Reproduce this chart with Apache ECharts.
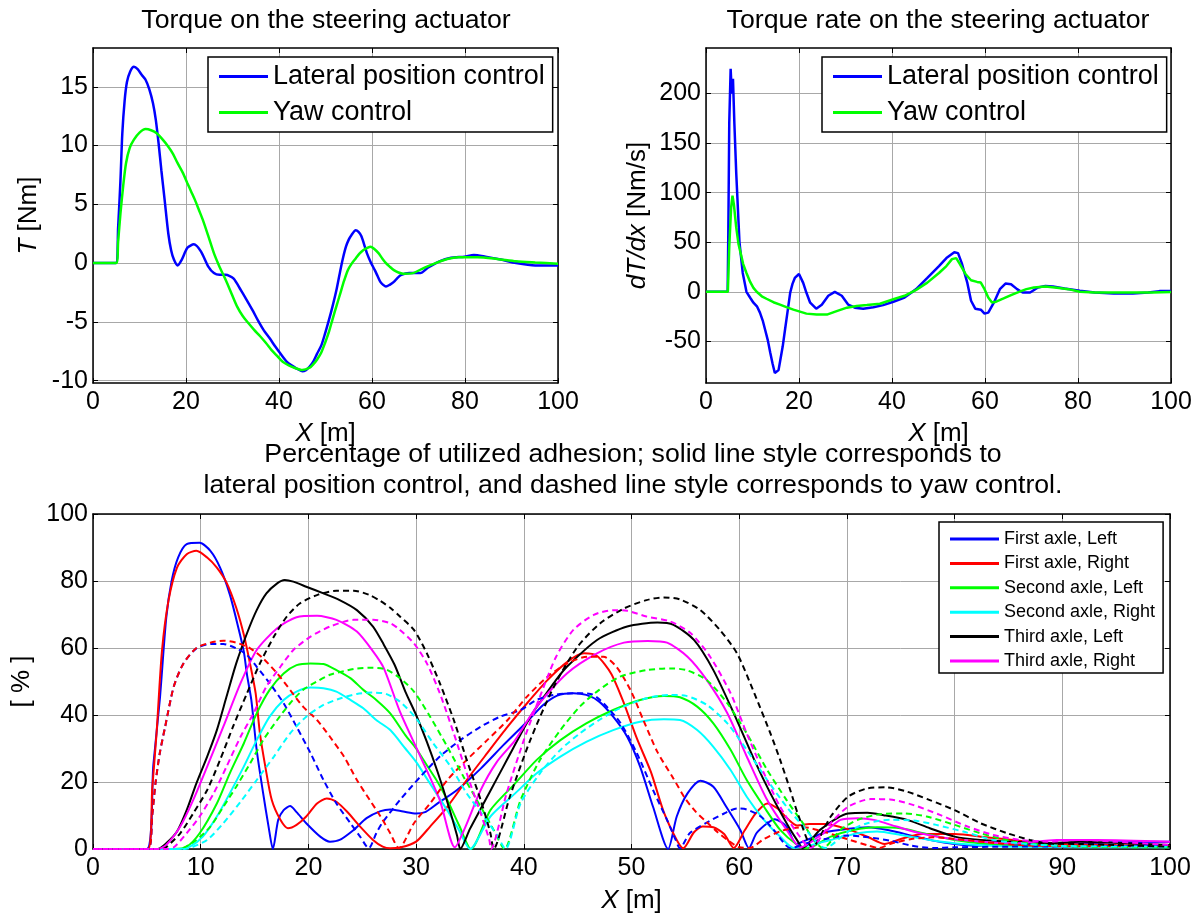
<!DOCTYPE html>
<html>
<head>
<meta charset="utf-8">
<script src="https://cdn.jsdelivr.net/npm/echarts@6/dist/echarts.min.js"></script>
<style>
  html, body { margin: 0; padding: 0; background: #fff; }
  #chart { width: 1197px; height: 915px; }
</style>
</head>
<body>
<div id="chart"></div>
<script>
// ---------- Torque on the steering actuator, T [Nm] vs X [m] ----------
const torqueLateral = [[0,0],[4.9,0],[5.4,3],[5.9,7],[6.3,11],[6.8,13.8],[7.3,15.4],[8,16.3],[8.8,16.7],[9.6,16.5],[10.5,16.0],[11.3,15.6],[12.1,14.8],[12.9,13.6],[13.5,12.2],[14.1,10.2],[14.7,7.9],[15.4,5.4],[16.2,2.5],[16.8,1.1],[17.4,0.3],[18.2,-0.2],[19.1,0.3],[20.3,1.3],[21.7,1.6],[23.2,1.0],[24.8,-0.3],[26,-0.85],[27.2,-1.0],[28.5,-1.0],[30.2,-1.3],[31.8,-2.3],[33,-3.1],[34.3,-4.0],[35.5,-4.9],[36.7,-5.7],[38,-6.4],[39.2,-7.1],[40.5,-7.8],[41.7,-8.4],[42.7,-8.7],[43.7,-8.95],[45,-9.2],[45.8,-9.1],[46.6,-8.8],[47.4,-8.35],[48.2,-7.7],[49.1,-7.0],[49.9,-6.0],[50.7,-4.9],[51.5,-3.7],[52.4,-2.2],[53.2,-0.6],[53.8,0.5],[54.4,1.4],[55,2.0],[55.6,2.4],[56.5,2.8],[57.1,2.65],[57.7,2.3],[58.3,1.6],[58.9,0.85],[59.7,0.1],[60.6,-0.6],[61.2,-1.1],[61.8,-1.6],[62.4,-1.85],[63,-2.0],[63.8,-1.85],[64.7,-1.6],[65.5,-1.25],[66.3,-1.0],[68,-0.85],[70.4,-0.85],[72,-0.4],[74.5,0.15],[77,0.45],[79.9,0.55],[81.9,0.7],[84.4,0.55],[87.7,0.3],[91,0],[95.1,-0.2],[100,-0.2]];
const torqueYaw = [[0,0],[5,0],[5.4,1.8],[5.9,4.2],[6.5,6.6],[7.1,8.5],[7.9,9.8],[8.8,10.5],[10,11.1],[11.3,11.4],[12.5,11.3],[13.7,11.05],[15,10.5],[16.2,9.9],[17.2,9.3],[18.2,8.5],[19.3,7.7],[20.3,6.8],[21.1,6.1],[21.9,5.4],[22.8,4.5],[23.6,3.7],[24.8,2.3],[26,0.85],[27.2,-0.3],[28.5,-1.4],[29.8,-2.6],[31,-3.7],[32.2,-4.5],[33.4,-5.1],[34.7,-5.7],[35.9,-6.2],[37.2,-6.8],[38.4,-7.4],[39.6,-7.9],[40.8,-8.4],[42.1,-8.7],[43.3,-8.9],[45,-9.1],[46.6,-8.9],[47.4,-8.6],[48.2,-8.2],[49.1,-7.6],[49.9,-6.8],[50.7,-5.9],[51.5,-4.8],[52.4,-3.6],[53.2,-2.55],[54,-1.5],[54.8,-0.6],[55.7,0],[56.5,0.4],[57.3,0.8],[58.1,1.1],[59,1.3],[59.7,1.4],[60.5,1.2],[61.4,0.85],[62.2,0.4],[63,0],[63.8,-0.3],[64.7,-0.6],[65.7,-0.8],[66.7,-0.9],[68.8,-0.85],[71.2,-0.4],[73.7,0],[76.2,0.35],[78.6,0.5],[82.7,0.5],[86.9,0.35],[91,0.15],[95.1,0.05],[100,-0.05]];

// ---------- Torque rate on the steering actuator, dT/dx [Nm/s] ----------
const rateLateral = [[0,0],[4.66,0],[4.8,60],[5.0,170],[5.3,225],[5.55,200],[5.8,215],[6.1,170],[6.5,120],[7.0,70],[7.2,50],[7.9,19],[8.7,0],[9.5,-6],[10.2,-11],[11,-15],[11.6,-21],[12.2,-29],[12.7,-38],[13.3,-49],[13.8,-61],[14.3,-72],[14.8,-82],[15.2,-83],[15.6,-79],[15.9,-71],[16.5,-55],[17,-38],[17.6,-18],[18.1,-1],[18.6,8],[19.1,14],[20,18],[20.9,9],[21.6,-1],[22.4,-11],[23.7,-17],[24.9,-13],[26.3,-4],[27.7,0],[29.2,-4],[30.6,-13],[32,-16],[33.8,-17],[36,-15.5],[38.1,-13.4],[40.3,-10],[42.7,-5.7],[45.2,2.7],[47.6,14],[50.1,26],[51.7,34],[53.4,40],[54.2,39],[55,29],[55.6,19],[56.2,9],[57,-9],[57.9,-17],[59.1,-18],[59.9,-22],[60.7,-21],[61.9,-11],[63.2,2.7],[64.4,8.3],[65.6,7.7],[66.9,2.7],[68.1,-0.7],[69.7,-0.7],[71.4,4.3],[73,6],[74.6,5.3],[77.1,3.3],[80.4,1],[83.6,-0.7],[87.7,-1.7],[91.8,-1.7],[95.1,-0.7],[97.5,0.7],[100,0.7]];
const rateYaw = [[0,0],[4.7,0],[5.0,45],[5.4,85],[5.7,97],[6.0,88],[6.5,65],[7.0,48],[7.5,38],[8.0,28],[8.7,19],[9.5,10],[10.2,4],[10.9,0],[12,-4.5],[13,-7],[14.5,-10.5],[15.9,-13],[17.3,-15.5],[18.8,-18],[20.2,-20],[21.6,-22],[23.8,-23],[26,-23],[28.1,-19.5],[30.3,-16],[32.4,-14.4],[34.6,-13.4],[37.4,-12],[40.3,-7.5],[42.7,-4],[45.2,2],[47.6,9.3],[50.1,19],[51.7,26],[52.9,33],[53.8,34],[54.6,28],[55.8,18],[57,11.7],[58.3,10],[59.1,9.3],[59.9,2.7],[60.7,-5.7],[61.5,-10.7],[62.4,-10],[64,-6.7],[65.6,-3.3],[67.3,0],[68.9,2.7],[70.5,4.3],[73,5.3],[75.5,4],[77.9,2.7],[80.4,0],[83.6,-0.7],[87.7,-0.7],[91.8,-0.7],[95.9,-0.7],[100,-0.3]];

// ---------- Utilized adhesion [%], lateral position control (solid) ----------
const firstLeftLat = [[0,0],[5.0,0],[5.6,25],[6.2,44.5],[6.8,69],[7.3,80],[7.9,87],[8.7,91],[9.9,91.4],[10.9,89],[11.8,84],[12.7,76],[13.5,66],[14,59],[14.3,52],[14.7,44.5],[15.2,29.5],[15.8,16.6],[16.3,6.7],[16.7,0],[17.2,8.7],[17.7,11.6],[18.3,12.8],[18.9,11],[19.8,7.7],[21.1,3.7],[22,2.2],[22.9,2.7],[24.2,5.7],[25.4,9.2],[26.7,11.3],[27.6,11.8],[28.8,11.2],[30,10.6],[30.9,11.1],[32,13.6],[33.8,17.6],[36,24],[38.1,31],[40.3,38],[41.8,43],[43.1,45.8],[44.6,46.5],[45.8,46],[47,44],[48.3,39.5],[49.6,33.5],[50.8,24.6],[52,12.6],[53.4,0],[54.2,9.7],[55.2,16.6],[56.4,20.4],[57.6,18.6],[58.8,12.6],[60.1,5.7],[60.9,0.3],[61.6,4.7],[62.6,7.7],[63.3,8.9],[64.4,6.7],[65.3,1.5],[66.5,3],[68,5],[70,6],[72,6.5],[74,5.5],[76,4],[78,2.5],[80,1.5],[82,1],[85,1.5],[90,1.5],[95,2],[100,2.2]];
const firstRightLat = [[0,0],[5.1,0],[5.5,18],[5.9,34.5],[6.4,59],[7,74],[7.8,84],[8.7,88],[9.6,89],[10.6,87],[11.5,84],[12.4,79.5],[13.3,72],[14,64],[14.6,55],[15.1,46.5],[15.5,34.5],[16,24.6],[16.6,14.6],[17.4,8.7],[18.1,6.2],[18.9,7.2],[19.8,9.7],[20.8,13.6],[21.7,15.1],[22.6,14.1],[23.6,11.1],[24.8,6.7],[26,2.7],[26.9,0.7],[27.6,0.2],[28.6,0.5],[30,2.2],[31.3,6.7],[32.9,12.6],[34.7,20.6],[36.6,28.6],[38.5,36.5],[40.3,43.5],[42.2,50.4],[44.1,56],[45.6,58.4],[46.8,57.6],[48.1,52.4],[49.3,43.5],[50.5,33],[51.8,23],[53,11],[54.2,2.7],[54.8,0.2],[55.8,5],[56.6,6.7],[57.6,6.5],[58.6,4.5],[59.5,0.3],[60.5,5.5],[61.5,10.5],[62.6,13.6],[63.6,12],[64.5,9],[65.4,7],[66.5,7.5],[68,7.5],[70,6],[72,3.5],[73.5,1.5],[75,3],[77,4.5],[80,4.5],[83,3.5],[86,2.5],[90,1.5],[95,1.2],[100,1.0]];
const secondLeftLat = [[0,0],[7.5,0],[8.7,0.7],[9.9,4.7],[11.5,13.6],[12.7,22.6],[14,31.5],[15.2,40.5],[16.4,47.5],[17.7,52.4],[18.9,54.9],[20.2,55.4],[21.4,55.2],[22.6,53.4],[23.9,51],[25.1,47.5],[26.3,44.5],[27.6,40.5],[29,34],[30,30],[31,25],[32,20],[33,14],[34,7],[35.1,0],[36.9,11.6],[39.2,19.6],[41.2,26.6],[43.4,32.5],[45.8,37.5],[48.3,41.5],[50.8,44.5],[53,45.7],[54.5,45.3],[56.1,42.5],[57.6,37.5],[59.2,29.6],[60.7,20.6],[62.3,12.6],[63.8,5.7],[65.4,1.2],[66.3,0.2],[68.5,3.7],[70.6,5.7],[72.8,6.5],[75,6.2],[77.1,4.7],[80,2.7],[83,1.5],[87,0.9],[91.7,0.7],[100,0.7]];
const secondRightLat = [[0,0],[8,0],[9,0.7],[10.2,3.7],[11.5,9.7],[12.7,16.6],[14,24.6],[15.2,32.5],[16.4,39.5],[17.7,44.5],[18.9,47],[20.2,48.2],[21.4,48],[22.6,47],[23.9,44.5],[25.1,42],[26.3,38.5],[27.6,35.5],[29,30],[30,26],[31,21],[32,16],[33,11],[34,5.5],[35,0],[36.9,9.7],[39.2,16.6],[41.2,22.6],[43.4,27.6],[45.8,32],[48.3,35.5],[50.8,38],[53,38.7],[54.5,38.5],[56.1,35.5],[57.6,30.5],[59.2,23.6],[60.7,15.6],[62.3,8.7],[63.8,3.7],[65.1,0.3],[68.5,2.7],[71,4.7],[72.8,5.2],[75,4.2],[77.7,2.7],[80.8,1.5],[85.5,0.7],[100,0.5]];
const thirdLeftLat = [[0,0],[6,0],[6.8,1.7],[7.8,5.2],[8.7,11.6],[9.6,19.6],[10.6,27.6],[11.5,35.5],[12.4,45.5],[13.3,55.4],[14.3,64.4],[15.2,71.3],[16.1,76.3],[17.1,79.3],[17.8,80.3],[18.6,79.8],[19.8,78.3],[21.4,76.3],[22.9,74.3],[24.5,71.3],[26,66.4],[27,61],[28,55],[29,47],[30,40],[31,32],[32,23],[33,13],[33.8,4],[34.1,0],[35,6],[36,12],[37,18],[38,24],[39,30],[40,36],[41,41.5],[42,46],[43,50.5],[44,54.4],[46.8,62.4],[49.6,66.4],[52.4,67.6],[53.9,66.9],[55.8,62.4],[57.6,53.4],[59.5,40.5],[61.4,26.6],[62.9,16.6],[64.4,7.7],[65.4,2.5],[65.9,0.3],[67.5,5.7],[70.1,10.6],[71.9,10.8],[73.4,10.1],[75.6,8.7],[77.7,6.2],[80,3.7],[82.4,2.7],[85.5,2.2],[88.6,1.7],[91.7,2.2],[94.8,1.9],[100,1.2]];
const thirdRightLat = [[0,0],[6,0],[6.8,1.2],[8.1,6.7],[9.3,14.6],[10.6,24.6],[12.1,36.5],[13.7,49.5],[15.2,59.4],[17.1,65.9],[18.9,69.2],[20.8,69.6],[22.6,68.4],[24.5,64.9],[26,59],[27,54],[28.5,41],[30.4,27.6],[32.2,14.6],[33.6,0.5],[34.5,6],[36,17.6],[37.5,26],[39.2,32.5],[41.2,42.5],[44,52.4],[46.8,58.4],[49.3,61.6],[51.5,62.1],[53.3,61.6],[55.2,57.4],[57,50.4],[58.9,40.5],[60.7,27.6],[62.6,14.6],[64.4,5.7],[65.7,0.5],[67.8,4.7],[69.4,8.7],[71,9.2],[72.5,8.7],[74.6,6.7],[76.8,4.7],[79.3,3.2],[82.4,2.2],[85.5,1.7],[89.5,2.7],[93.2,2.7],[100,2.2]];

// ---------- Utilized adhesion [%], yaw control (dashed) ----------
const firstLeftYaw = [[0,0],[5.1,0],[5.5,10],[5.8,19.6],[6.2,28.6],[6.7,36.5],[7.5,48.5],[8.4,55.4],[9.6,59.9],[10.9,61.2],[12.1,61.2],[13.3,59.9],[14.3,57.9],[15.2,54.4],[16.4,49.5],[17.7,43.5],[18.9,36.5],[20.2,28.6],[21.4,20.6],[22.6,13.6],[23.9,7.7],[24.8,3.7],[25.6,0.2],[26.3,4.7],[26.9,8],[28.5,14.6],[30.4,21.6],[32.2,27.6],[34.1,32.5],[36,36.5],[37.8,39.5],[39.7,41.5],[41.2,44.5],[42.8,46],[44.6,46.5],[46.2,46.3],[47.4,43.5],[49,37.5],[50.5,28.6],[52,17.6],[53.3,8.7],[54.1,2.7],[54.5,0.2],[55.4,4.7],[56.9,7.7],[58.6,10.6],[59.8,12.1],[60.7,11.8],[62,9.7],[63.2,5.7],[64.3,1.2],[64.8,0.2],[66,1.5],[68,3],[70,4],[72,3.5],[74,2.5],[76,1],[78,0.3],[80,0.5],[85,0.7],[90,0.8],[100,1.0]];
const firstRightYaw = [[0,0],[5.1,0],[5.5,10],[5.8,19.6],[6.2,28.6],[6.7,36.5],[7.5,48.5],[8.4,55.4],[9.6,60],[10.9,61.6],[12.1,62.2],[13.3,61.6],[14.6,59.9],[15.8,56.9],[17.1,52.4],[18.3,47.5],[19.5,42.5],[20.8,38.5],[22,33.5],[23.3,27.6],[24.5,20.6],[25.7,14.6],[26.7,9.7],[27.6,4.7],[28.4,0.2],[29.8,7.7],[31.3,13.6],[32.9,20.6],[34.7,26.6],[36.6,32.5],[38.5,38.5],[40.3,45.5],[42.2,51.4],[44.1,55.5],[45.9,57.4],[47.4,57.4],[48.6,54.4],[49.9,47.5],[51.1,38.5],[52.4,29],[53.9,21],[55,15],[56,11],[57,8],[58,5],[59,2.5],[60,0.5],[61,0.3],[62.3,3],[64,5.5],[66,6.5],[68,5],[70,3],[72,1],[73,0.3],[74,1.5],[76,3],[78,3.5],[80,3],[83,2],[86,1.2],[90,0.8],[100,0.8]];
const secondLeftYaw = [[0,0],[8,0],[8.4,0.3],[9.6,2.7],[10.9,6.7],[12.1,12.6],[13.3,18.6],[14.6,25.6],[15.8,32.5],[17.1,38.5],[18.3,43.5],[19.5,47.5],[20.8,50],[22,52],[23.3,53.1],[24.5,53.9],[26,54.1],[27.2,53.6],[28.5,51],[29.8,47],[31.3,39.5],[32.9,30.5],[34.4,21.6],[36,12.6],[37.2,5.7],[38.2,0],[39.7,14.6],[41.5,26.6],[43.4,35.5],[45.2,42.5],[47,47.5],[48.9,51.4],[51.4,53.4],[53.6,53.9],[55.1,53.4],[57,50.4],[58.9,43.5],[60.7,34.5],[62.6,23.6],[64.4,14.6],[65.7,8.7],[67.8,0.3],[69.4,5.7],[71,8.7],[73.1,10.4],[75.3,10.6],[77.4,9.7],[80,7.2],[82.4,4.7],[85.5,2.2],[88.6,1.2],[91.7,0.7],[100,0.5]];
const secondRightYaw = [[0,0],[8.5,0],[9,0.3],[10.6,2.7],[12.1,7.7],[13.7,14.1],[15.2,20.6],[16.8,27.6],[18.3,34.5],[19.8,39.5],[21.4,43],[23,45],[24.5,46.3],[26,46.7],[27.2,46.3],[28.5,44],[30,39],[31.6,31.5],[33.2,24.6],[34.7,16.6],[36.3,9.7],[37.5,4.2],[38.3,0],[39.7,13.6],[41.5,22.6],[43.4,29.6],[45.2,34.5],[47,38.5],[48.9,42],[51.4,45],[53.6,46],[55.1,45.7],[57,43],[58.9,37.5],[60.7,29.6],[62.6,20.6],[64.4,12.6],[65.7,7.7],[68,0.3],[70.1,5.2],[71.9,7.7],[74,8.7],[76.2,8.5],[78.3,7.2],[80.8,5.2],[83.6,2.7],[86.7,1.5],[90.1,0.9],[100,0.7]];
const thirdLeftYaw = [[0,0],[6.5,0],[6.8,0.5],[8.1,4.7],[9.3,10.6],[10.6,17.6],[11.8,26.6],[13,36.5],[14.3,46.5],[15.5,55.4],[16.8,63.4],[18,69.4],[19.2,73.3],[20.8,75.8],[22.6,77.1],[24.2,77.1],[25.7,75.8],[26.7,74],[27.6,72],[28.5,69.4],[29.8,65.4],[31,58.4],[32.2,49.5],[33.5,38.5],[34.7,26.6],[36,14.6],[36.9,4.7],[37.2,0],[38.7,15.6],[40.6,32.5],[42.8,48.5],[45,60.4],[47.1,67.4],[49.3,71.8],[51.4,74.3],[53,75.1],[54.5,74.5],[56.4,71.3],[58.2,65.4],[59.8,58.4],[61.4,46.5],[62.9,34.5],[63.8,26.6],[64.7,18],[65.5,10],[66.8,0.5],[68.5,9.7],[70.1,15.6],[71.9,18.1],[73.7,18.4],[75.6,17.1],[77.7,14.6],[80,11.6],[82.4,7.7],[84.9,4.7],[87,2.7],[88.6,1.7],[91.7,1.5],[94.8,1.2],[100,0.7]];
const thirdRightYaw = [[0,0],[6.8,0],[7.5,0.5],[8.7,4.7],[9.9,9.7],[11.2,16.6],[12.4,24.6],[13.7,33.5],[14.9,40.5],[16.1,48.5],[17.4,54.4],[18.6,59.4],[20.2,63.4],[22,66.4],[24.2,68.4],[26,68.4],[27.6,67.4],[28.5,65.4],[29.8,61.4],[31,55.4],[32.2,46.5],[33.5,34.5],[34.7,22.6],[36,10.6],[36.8,2.7],[36.95,0],[38.4,16.6],[40,32.5],[41.5,45.5],[43,57.4],[44.6,65.4],[46.5,69.9],[48.3,71.3],[49.6,71.1],[51.4,69.4],[53.6,67.9],[55.5,64.4],[57.3,57.4],[59.2,46.5],[60.7,34.5],[62.3,22.6],[63.8,12.6],[65.4,4.7],[66.6,0.3],[68.5,7.7],[70.1,12.6],[72.2,14.9],[74,14.8],[76.2,13.1],[78.7,10.1],[81.2,6.7],[83.6,4.2],[86.1,2.7],[88.6,2.2],[91.7,2.7],[94.8,2.2],[100,1.2]];

// ---------- tick values ----------
const torqueTicks = [-10, -5, 0, 5, 10, 15];
const rateTicks = [-50, 0, 50, 100, 150, 200];

const FONT = '"Liberation Sans", Arial, Helvetica, sans-serif';
const GRID_COLOR = '#a8a8a8';
const TITLE_FONT = '26.7px ' + FONT;

function mainAxis(o) {
  return {
    type: 'value',
    gridIndex: o.grid,
    position: o.position,
    min: o.min, max: o.max,
    interval: o.interval,
    name: o.name || '',
    nameLocation: 'middle',
    nameGap: o.nameGap,
    nameRotate: o.nameRotate,
    nameMoveOverlap: false,
    nameTextStyle: {
      color: '#000', fontSize: 26, fontFamily: FONT,
      rich: { i: { fontStyle: 'italic', fontSize: 26, fontFamily: FONT, color: '#000' } }
    },
    axisLine: { show: true, onZero: false, lineStyle: { color: '#000', width: 1.5 } },
    axisTick: { show: true, inside: true, length: 5, customValues: o.ticks, lineStyle: { color: '#000', width: 1 } },
    axisLabel: { show: true, color: '#000', fontSize: 25, fontFamily: FONT, margin: o.margin, customValues: o.ticks },
    splitLine: { show: true, lineStyle: { color: GRID_COLOR, width: 1 } }
  };
}
function mirrorAxis(o) {
  return {
    type: 'value',
    gridIndex: o.grid,
    position: o.position,
    min: o.min, max: o.max,
    interval: o.interval,
    axisLine: { show: true, onZero: false, lineStyle: { color: '#000', width: 1.5 } },
    axisTick: { show: true, inside: true, length: 5, customValues: o.ticks, lineStyle: { color: '#000', width: 1 } },
    axisLabel: { show: false },
    splitLine: { show: false }
  };
}

function line(name, data, color, xi, opts) {
  opts = opts || {};
  return {
    type: 'line', name: name, data: data,
    xAxisIndex: xi, yAxisIndex: xi,
    showSymbol: false, symbol: 'none',
    smooth: opts.smooth === undefined ? 0.25 : opts.smooth,
    color: color,
    lineStyle: { color: color, width: opts.width || 2, type: opts.dashed ? [6, 4] : 'solid' },
    itemStyle: { color: color },
    z: opts.z || 2,
    silent: true
  };
}

const chart = echarts.init(document.getElementById('chart'), null, { renderer: 'canvas' });

const legendCommon = {
  orient: 'vertical',
  icon: 'rect',
  itemWidth: 49,
  backgroundColor: '#fff',
  borderColor: '#000',
  borderWidth: 1.5,
  borderRadius: 0,
  selectedMode: false,
  inactiveColor: '#000'
};

const option = {
  animation: false,
  backgroundColor: '#fff',
  grid: [
    { left: 93, top: 48, width: 465, height: 335, containLabel: false, outerBoundsMode: 'none' },
    { left: 706, top: 48, width: 465, height: 335, containLabel: false, outerBoundsMode: 'none' },
    { left: 93, top: 514, width: 1077, height: 335, containLabel: false, outerBoundsMode: 'none' }
  ],
  xAxis: [
    mainAxis({ grid: 0, position: 'bottom', min: 0, max: 100, interval: 20, name: '{i|X} [m]', nameGap: 38, margin: 7 }),
    mirrorAxis({ grid: 0, position: 'top', min: 0, max: 100, interval: 20 }),
    mainAxis({ grid: 1, position: 'bottom', min: 0, max: 100, interval: 20, name: '{i|X} [m]', nameGap: 38, margin: 7 }),
    mirrorAxis({ grid: 1, position: 'top', min: 0, max: 100, interval: 20 }),
    mainAxis({ grid: 2, position: 'bottom', min: 0, max: 100, interval: 10, name: '{i|X} [m]', nameGap: 39, margin: 7 }),
    mirrorAxis({ grid: 2, position: 'top', min: 0, max: 100, interval: 10 })
  ],
  yAxis: [
    mainAxis({ grid: 0, position: 'left', min: -10.2, max: 18.3, ticks: torqueTicks, name: '{i|T} [Nm]', nameGap: 51, nameRotate: 90, margin: 5 }),
    mirrorAxis({ grid: 0, position: 'right', min: -10.2, max: 18.3, ticks: torqueTicks }),
    mainAxis({ grid: 1, position: 'left', min: -92, max: 246, ticks: rateTicks, name: '{i|dT/dx} [Nm/s]', nameGap: 55, nameRotate: 90, margin: 5 }),
    mirrorAxis({ grid: 1, position: 'right', min: -92, max: 246, ticks: rateTicks }),
    mainAxis({ grid: 2, position: 'left', min: 0, max: 100, interval: 20, name: '[ % ]', nameGap: 58, nameRotate: 90, margin: 5 }),
    mirrorAxis({ grid: 2, position: 'right', min: 0, max: 100, interval: 20 })
  ],
  legend: [
    Object.assign({}, legendCommon, {
      left: 208, top: 57, itemHeight: 3, itemGap: 9, padding: [6, 8, 6, 11],
      data: ['Lateral position control', 'Yaw control'],
      textStyle: { color: '#000', fontSize: 27, fontFamily: FONT }
    }),
    Object.assign({}, legendCommon, {
      left: 822, top: 57, itemHeight: 3, itemGap: 9, padding: [6, 8, 6, 11],
      data: ['Lateral position control', 'Yaw control'],
      textStyle: { color: '#000', fontSize: 27, fontFamily: FONT }
    }),
    Object.assign({}, legendCommon, {
      left: 939, top: 522, itemHeight: 3, itemGap: 6.4, padding: [8, 8, 3, 11],
      data: ['First axle, Left', 'First axle, Right', 'Second axle, Left', 'Second axle, Right', 'Third axle, Left', 'Third axle, Right'],
      textStyle: { color: '#000', fontSize: 18, fontFamily: FONT }
    })
  ],
  graphic: [
    { type: 'text', x: 326, y: 21, style: { text: 'Torque on the steering actuator', fill: '#000', font: TITLE_FONT, align: 'center', verticalAlign: 'middle', textAlign: 'center', textVerticalAlign: 'middle' } },
    { type: 'text', x: 938, y: 21, style: { text: 'Torque rate on the steering actuator', fill: '#000', font: TITLE_FONT, align: 'center', verticalAlign: 'middle', textAlign: 'center', textVerticalAlign: 'middle' } },
    { type: 'text', x: 633, y: 455, style: { text: 'Percentage of utilized adhesion; solid line style corresponds to', fill: '#000', font: TITLE_FONT, align: 'center', verticalAlign: 'middle', textAlign: 'center', textVerticalAlign: 'middle' } },
    { type: 'text', x: 633, y: 486, style: { text: 'lateral position control, and dashed line style corresponds to yaw control.', fill: '#000', font: TITLE_FONT, align: 'center', verticalAlign: 'middle', textAlign: 'center', textVerticalAlign: 'middle' } }
  ],
  series: [
    line('Lateral position control', torqueLateral, '#0000ff', 0, { width: 2.5, z: 2 }),
    line('Yaw control', torqueYaw, '#00ff00', 0, { width: 2.5, z: 3 }),
    line('Lateral position control', rateLateral, '#0000ff', 2, { width: 2.5, z: 2, smooth: false }),
    line('Yaw control', rateYaw, '#00ff00', 2, { width: 2.5, z: 3, smooth: false }),

    line('First axle, Left', firstLeftLat, '#0000ff', 4),
    line('First axle, Right', firstRightLat, '#ff0000', 4),
    line('Second axle, Left', secondLeftLat, '#00ff00', 4),
    line('Second axle, Right', secondRightLat, '#00ffff', 4),
    line('Third axle, Left', thirdLeftLat, '#000000', 4),
    line('Third axle, Right', thirdRightLat, '#ff00ff', 4),

    line('First axle, Left (yaw)', firstLeftYaw, '#0000ff', 4, { dashed: true }),
    line('First axle, Right (yaw)', firstRightYaw, '#ff0000', 4, { dashed: true }),
    line('Second axle, Left (yaw)', secondLeftYaw, '#00ff00', 4, { dashed: true }),
    line('Second axle, Right (yaw)', secondRightYaw, '#00ffff', 4, { dashed: true }),
    line('Third axle, Left (yaw)', thirdLeftYaw, '#000000', 4, { dashed: true }),
    line('Third axle, Right (yaw)', thirdRightYaw, '#ff00ff', 4, { dashed: true })
  ]
};

chart.setOption(option);
</script>
</body>
</html>
